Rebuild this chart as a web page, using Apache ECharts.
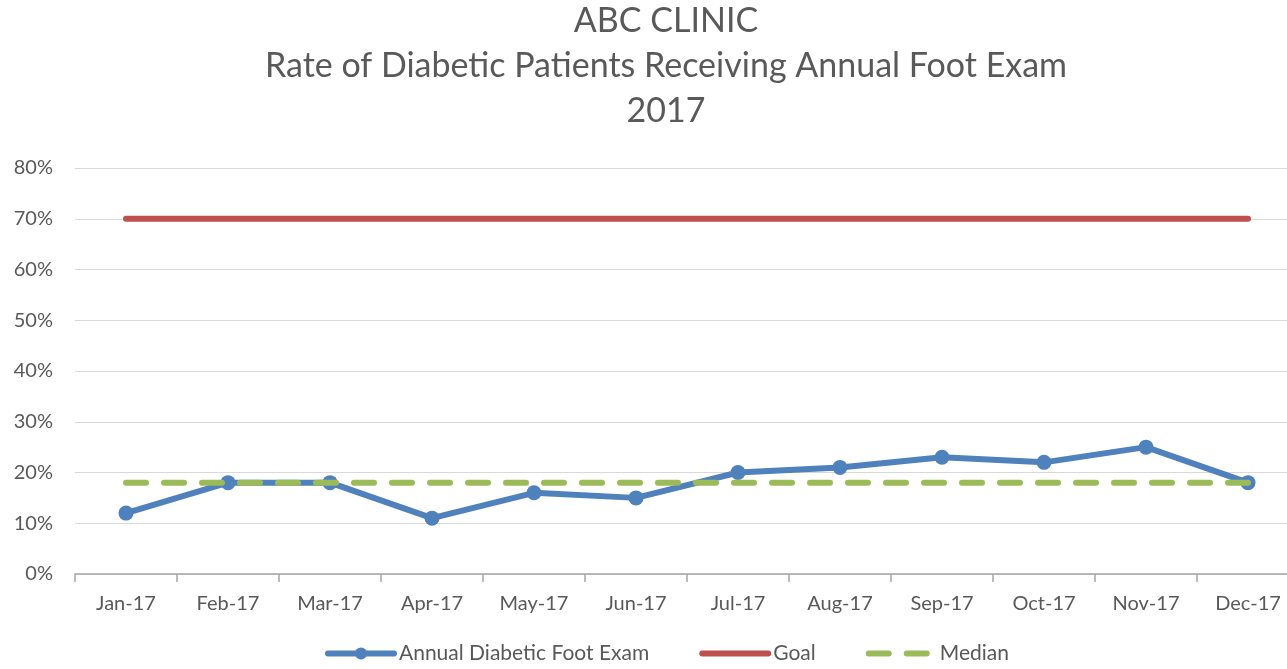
<!DOCTYPE html>
<html>
<head>
<meta charset="utf-8">
<script src="https://cdn.jsdelivr.net/npm/echarts@6/dist/echarts.min.js"></script>
<style>
  html, body { margin: 0; padding: 0; background: #fff; overflow: hidden; }
  #chart { width: 1299px; height: 669px; }
</style>
</head>
<body>
<div id="chart"></div>
<script>
var months = ['Jan-17', 'Feb-17', 'Mar-17', 'Apr-17', 'May-17', 'Jun-17', 'Jul-17', 'Aug-17', 'Sep-17', 'Oct-17', 'Nov-17', 'Dec-17'];
var footExam = [12, 18, 18, 11, 16, 15, 20, 21, 23, 22, 25, 18];
var goal = [70, 70, 70, 70, 70, 70, 70, 70, 70, 70, 70, 70];
var median = [18, 18, 18, 18, 18, 18, 18, 18, 18, 18, 18, 18];

var font = 'Lato, "Open Sans", sans-serif';
var chart = echarts.init(document.getElementById('chart'));

var option = {
	animation: false,
	title: {
		text: 'ABC CLINIC\nRate of Diabetic Patients Receiving Annual Foot Exam\n2017',
		left: 661,
		top: -6,
		textAlign: 'center',
		textStyle: {
			fontFamily: font,
			fontSize: 34,
			fontWeight: 'normal',
			color: '#595959',
			lineHeight: 45
		}
	},
	legend: {
		bottom: 0,
		left: 320,
		itemWidth: 66,
		itemHeight: 15,
		itemGap: 50,
		lineStyle: { width: 'inherit', type: 'inherit', cap: 'round' },
		textStyle: { fontFamily: font, fontSize: 21, color: '#595959' },
		data: [
			{ name: 'Annual Diabetic Foot Exam' },
			{ name: 'Goal', itemStyle: { opacity: 0 } },
			{ name: 'Median', itemStyle: { opacity: 0 } }
		]
	},
	grid: {
		left: 75,
		right: 0,
		top: 168,
		bottom: 95
	},
	xAxis: {
		type: 'category',
		data: months,
		boundaryGap: true,
		axisLine: { lineStyle: { color: '#a6a6a6', width: 1.5 } },
		axisTick: { show: true, length: 8, lineStyle: { color: '#a6a6a6', width: 1.5 } },
		axisLabel: { fontFamily: font, fontSize: 20, color: '#595959', margin: 20 }
	},
	yAxis: {
		type: 'value',
		min: 0,
		max: 80,
		interval: 10,
		axisLine: { show: false },
		axisTick: { show: false },
		splitLine: { lineStyle: { color: '#d9d9d9', width: 1 } },
		axisLabel: {
			fontFamily: font, fontSize: 20, color: '#595959', margin: 22,
			formatter: function (v) { return v + '%'; }
		}
	},
	series: [
		{
			name: 'Median',
			type: 'line',
			data: median,
			symbol: 'none',
			z: 3,
			lineStyle: { color: '#9bbb59', width: 6, type: [20, 18], cap: 'round' },
			itemStyle: { color: '#9bbb59' }
		},
		{
			name: 'Annual Diabetic Foot Exam',
			type: 'line',
			data: footExam,
			symbol: 'circle',
			symbolSize: 15,
			z: 2,
			lineStyle: { color: '#4f81bd', width: 6, cap: 'round' },
			itemStyle: { color: '#4f81bd' }
		},
		{
			name: 'Goal',
			type: 'line',
			data: goal,
			symbol: 'none',
			lineStyle: { color: '#c0504d', width: 6, cap: 'round' },
			itemStyle: { color: '#c0504d' }
		}
	]
};
chart.setOption(option);
</script>
</body>
</html>
